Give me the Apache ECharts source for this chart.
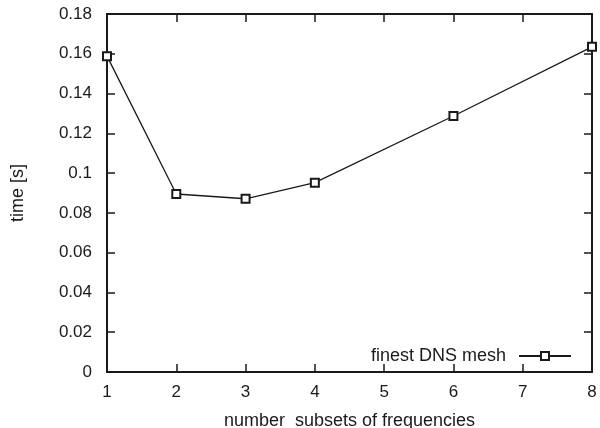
<!DOCTYPE html>
<html>
<head>
<meta charset="utf-8">
<script src="https://cdn.jsdelivr.net/npm/echarts@6/dist/echarts.min.js"></script>
<style>
  html, body { margin: 0; padding: 0; background: #fff; }
  #chart { width: 600px; height: 428px; }
</style>
</head>
<body>
<div id="chart"></div>
<script>
// Timing measurements: number of frequency subsets vs. time per run
const subsetCounts = [1, 2, 3, 4, 6, 8];
const timesSeconds = [0.1588, 0.0895, 0.0871, 0.0952, 0.1287, 0.1635];
const seriesName = 'finest DNS mesh';
const xTitle = 'number  subsets of frequencies';
const yTitle = 'time [s]';

const points = subsetCounts.map((x, i) => [x, timesSeconds[i]]);

const ink = '#1a1a1a';
const fontFamily = '"Liberation Sans", Arial, Helvetica, sans-serif';
const tickFont = { color: ink, fontSize: 17, fontFamily };

const frameLine = { show: true, onZero: false, lineStyle: { color: ink, width: 2 } };
const innerTicks = { show: true, inside: true, length: 8, lineStyle: { color: ink, width: 1.5 } };

const chart = echarts.init(document.getElementById('chart'), null, { renderer: 'canvas' });
chart.setOption({
  animation: false,
  backgroundColor: '#fff',
  grid: { left: 107, right: 8, top: 14, bottom: 56, containLabel: false, outerBoundsMode: 'none' },
  legend: {
    data: [seriesName],
    right: 28,
    top: 347,
    align: 'right',
    padding: 0,
    itemWidth: 52,
    itemHeight: 10,
    itemGap: 8,
    textStyle: { color: ink, fontSize: 18, fontFamily, padding: [0, 8, 0, 0] }
  },
  xAxis: [
    {
      type: 'value', min: 1, max: 8, interval: 1, position: 'bottom',
      name: xTitle, nameLocation: 'middle', nameGap: 40,
      nameTextStyle: { color: ink, fontSize: 18, fontFamily },
      axisLine: frameLine, axisTick: innerTicks,
      axisLabel: Object.assign({ margin: 12 }, tickFont),
      splitLine: { show: false }
    },
    {
      type: 'value', min: 1, max: 8, interval: 1, position: 'top',
      axisLine: frameLine, axisTick: innerTicks,
      axisLabel: { show: false }, splitLine: { show: false }
    }
  ],
  yAxis: [
    {
      type: 'value', min: 0, max: 0.18, interval: 0.02, position: 'left',
      name: yTitle, nameLocation: 'middle', nameGap: 80, nameRotate: 90,
      nameTextStyle: { color: ink, fontSize: 18, fontFamily },
      axisLine: frameLine, axisTick: innerTicks,
      axisLabel: Object.assign({ margin: 15 }, tickFont),
      splitLine: { show: false }
    },
    {
      type: 'value', min: 0, max: 0.18, interval: 0.02, position: 'right',
      axisLine: frameLine, axisTick: innerTicks,
      axisLabel: { show: false }, splitLine: { show: false }
    }
  ],
  series: [
    {
      name: seriesName,
      type: 'line',
      xAxisIndex: 0,
      yAxisIndex: 0,
      data: points,
      symbol: 'emptyRect',
      symbolSize: 8,
      showAllSymbol: true,
      lineStyle: { color: ink, width: 1.3 },
      itemStyle: { color: ink, borderColor: ink, borderWidth: 1.3 }
    }
  ]
});
</script>
</body>
</html>
